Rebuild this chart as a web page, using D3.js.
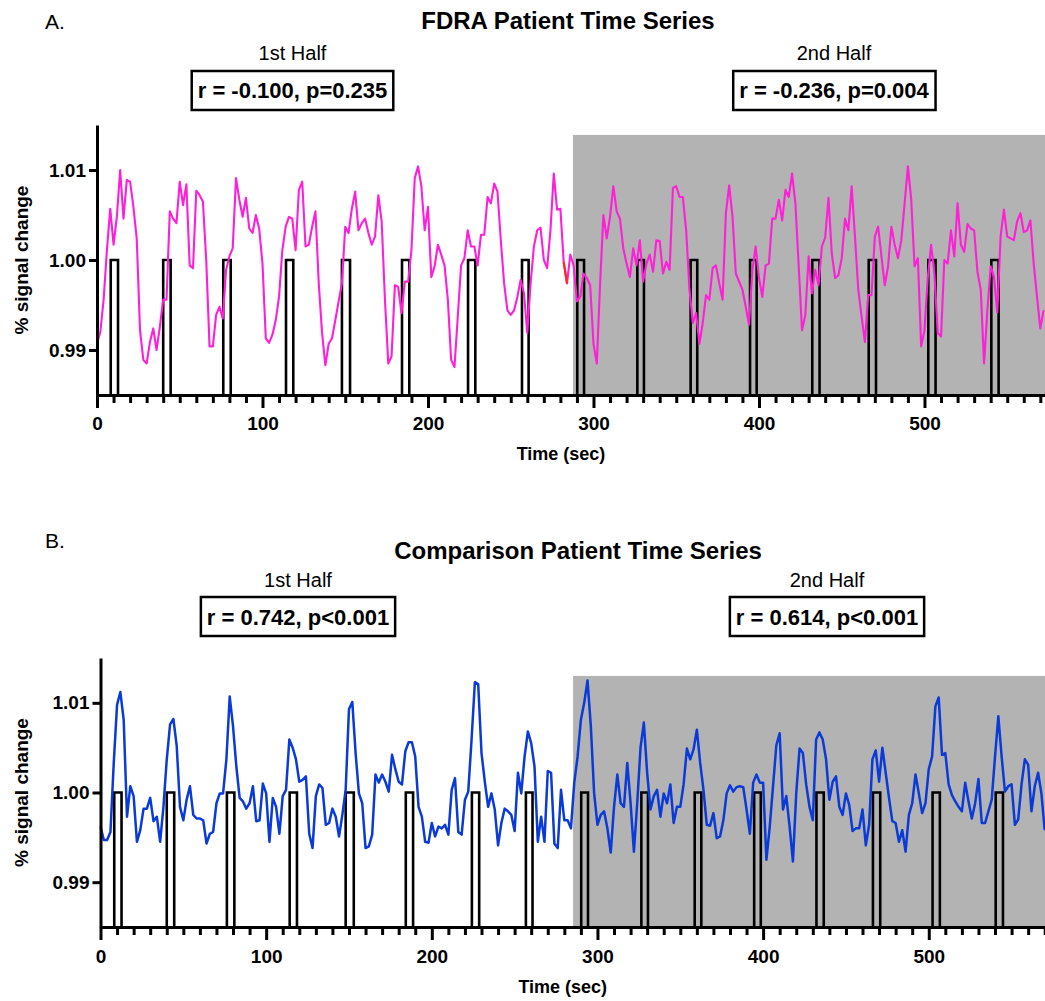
<!DOCTYPE html>
<html><head><meta charset="utf-8">
<script src="https://cdn.jsdelivr.net/npm/d3@7"></script>
<style>
body{margin:0;background:#fff}
text{font-family:"Liberation Sans",Arial,Helvetica,sans-serif;fill:#000}
</style>
</head><body><svg id="c" width="1045" height="1001"></svg>
<script>
// ---------- DATA ----------
const sampleStep = 2; // seconds between samples
const fdraSignal = [
 0.9907,0.9920,0.9956,1.0011,1.0057,1.0017,1.0048,1.0100,1.0046,1.0089,
 1.0087,1.0059,1.0024,0.9922,0.9889,0.9885,0.9909,0.9924,0.9900,0.9926,
 0.9956,0.9956,1.0054,1.0046,1.0041,1.0087,1.0061,1.0084,0.9994,0.9991,
 1.0077,1.0072,1.0065,1.0000,0.9904,0.9904,0.9939,0.9948,0.9935,0.9989,
 1.0004,1.0013,1.0091,1.0067,1.0048,1.0069,1.0035,1.0030,1.0050,1.0035,
 0.9996,0.9913,0.9908,0.9917,0.9933,0.9959,1.0011,1.0037,1.0048,1.0046,
 1.0011,1.0078,1.0087,1.0015,1.0017,1.0037,1.0054,0.9974,0.9919,0.9883,
 0.9907,0.9913,0.9933,0.9954,0.9974,1.0037,1.0030,1.0057,1.0076,1.0033,
 1.0041,1.0046,1.0030,1.0017,1.0026,1.0072,1.0043,0.9956,0.9885,0.9893,
 0.9972,0.9970,0.9941,0.9976,0.9976,1.0011,1.0091,1.0104,1.0082,1.0033,
 1.0059,0.9981,0.9993,1.0017,1.0006,0.9994,0.9956,0.9889,0.9881,0.9937,
 0.9994,1.0002,1.0033,1.0015,1.0015,0.9994,1.0028,1.0028,1.0070,1.0063,
 1.0085,1.0076,1.0022,0.9974,0.9944,0.9939,0.9944,0.9959,0.9978,0.9963,
 0.9919,0.9974,1.0015,1.0033,1.0036,1.0000,0.9991,1.0033,1.0096,1.0056,
 1.0057,0.9998,0.9974,1.0006,0.9994,0.9954,0.9959,0.9985,0.9980,0.9972,
 0.9907,0.9885,0.9974,1.0050,1.0024,1.0048,1.0082,1.0054,1.0046,1.0013,
 0.9996,0.9981,1.0013,0.9994,1.0022,0.9976,0.9996,1.0006,0.9987,1.0022,
 1.0021,0.9985,0.9998,0.9989,1.0080,1.0082,1.0070,1.0070,1.0033,0.9967,
 0.9930,0.9941,0.9907,0.9930,0.9961,0.9956,0.9991,0.9994,0.9974,0.9956,
 1.0052,1.0083,1.0048,0.9985,0.9976,0.9967,0.9948,0.9928,0.9989,1.0015,
 0.9980,0.9959,0.9994,0.9996,1.0046,1.0046,1.0067,1.0044,1.0078,1.0070,
 1.0096,1.0063,0.9993,0.9922,0.9939,1.0004,0.9963,0.9989,0.9972,1.0015,
 1.0025,1.0069,1.0007,0.9980,0.9983,1.0002,1.0046,1.0033,1.0082,1.0026,
 0.9967,0.9937,0.9909,0.9961,0.9961,1.0026,1.0037,1.0004,0.9972,0.9993,
 1.0037,1.0017,1.0002,1.0022,1.0063,1.0104,1.0067,0.9993,1.0002,0.9904,
 0.9922,0.9980,1.0017,0.9985,0.9919,0.9915,1.0000,0.9996,1.0033,1.0004,
 1.0063,1.0017,1.0009,1.0040,1.0035,1.0033,0.9987,0.9967,0.9885,0.9944,
 0.9993,0.9981,0.9942,1.0026,1.0056,1.0026,1.0024,1.0022,1.0043,1.0052,
 1.0031,1.0033,1.0044,0.9996,0.9959,0.9924,0.9944
];
const comparisonSignal = [
 0.9962,0.9947,0.9947,0.9956,1.0033,1.0098,1.0112,1.0081,0.9973,1.0007,
 0.9996,0.9945,0.9958,0.9982,0.9982,0.9994,0.9968,0.9973,0.9945,0.9984,
 1.0037,1.0076,1.0082,1.0052,0.9984,0.9969,0.9992,1.0007,0.9975,0.9971,
 0.9971,0.9969,0.9943,0.9954,0.9956,0.9988,0.9999,0.9999,1.0037,1.0107,
 1.0074,1.0029,0.9994,0.9990,0.9982,0.9988,1.0007,0.9968,0.9969,1.0010,
 0.9999,0.9945,0.9994,0.9984,0.9954,0.9996,1.0003,1.0059,1.0050,1.0037,
 1.0012,1.0014,1.0018,0.9954,0.9938,0.9996,1.0009,1.0005,0.9964,0.9966,
 0.9982,0.9973,0.9951,0.9975,1.0003,1.0093,1.0101,1.0044,0.9999,0.9988,
 0.9938,0.9940,0.9953,1.0020,1.0011,1.0020,1.0012,1.0001,1.0042,1.0026,
 1.0012,1.0009,1.0046,1.0056,1.0056,1.0040,0.9984,0.9973,0.9945,0.9944,
 0.9966,0.9951,0.9962,0.9960,0.9964,0.9953,1.0003,1.0016,0.9956,0.9953,
 0.9992,1.0001,1.0059,1.0123,1.0121,1.0044,1.0012,0.9984,0.9999,0.9981,
 0.9941,0.9966,0.9982,0.9979,0.9975,0.9957,1.0022,0.9999,1.0040,1.0068,
 1.0055,1.0029,0.9945,0.9973,0.9945,1.0024,1.0022,0.9943,0.9938,1.0003,
 0.9969,0.9969,0.9960,1.0011,1.0040,1.0081,1.0100,1.0125,1.0074,0.9999,
 0.9964,0.9975,0.9979,0.9960,0.9933,0.9984,1.0020,0.9988,0.9984,1.0033,
 0.9988,0.9934,0.9988,1.0050,1.0078,1.0022,0.9981,0.9996,1.0003,0.9973,
 0.9999,0.9988,1.0009,0.9966,0.9984,0.9984,1.0009,1.0049,1.0037,1.0048,
 1.0070,1.0033,1.0003,0.9964,0.9963,0.9977,0.9949,0.9951,0.9969,0.9999,
 1.0008,1.0001,1.0006,1.0007,1.0006,0.9981,0.9954,1.0011,1.0020,1.0011,
 1.0011,0.9925,0.9962,1.0007,1.0053,1.0066,0.9981,0.9996,0.9962,0.9923,
 0.9999,1.0049,1.0044,1.0009,0.9984,0.9969,1.0059,1.0067,1.0059,1.0037,
 0.9992,1.0012,1.0018,0.9984,0.9975,0.9999,0.9986,0.9957,0.9960,0.9960,
 0.9981,0.9941,0.9964,1.0037,1.0047,1.0012,1.0050,1.0022,0.9994,0.9968,
 0.9966,0.9945,0.9958,0.9934,0.9975,0.9988,1.0020,0.9999,0.9977,0.9988,
 1.0026,1.0040,1.0096,1.0106,1.0042,1.0044,1.0009,0.9997,0.9990,0.9984,
 0.9979,1.0011,0.9990,0.9971,0.9988,1.0015,0.9966,0.9966,0.9979,0.9992,
 1.0040,1.0085,1.0040,1.0001,1.0007,1.0009,0.9964,0.9970,1.0009,1.0037,
 1.0031,0.9979,1.0007,1.0022,0.9999,0.9958
];
const pulseOnsets  = [8.3, 40.0, 76.3, 114.2, 148.0, 184.3, 224.2, 256.8, 290.2, 326.5, 358.7, 394.6, 432.2, 466.3, 502.3, 540.4];
const pulseOffsets = [12.7, 44.5, 80.8, 118.6, 152.9, 188.7, 228.6, 260.8, 294.3, 330.5, 362.7, 398.6, 436.6, 470.7, 506.7, 544.8];
const pulseLevel = 1.00;
const timeDomain = [0, 575];
const signalDomain = [0.985, 1.015];
const yTickValues = [0.99, 1.00, 1.01];
const yTickLabels = ["0.99", "1.00", "1.01"];
const xMajorTicks = [0, 100, 200, 300, 400, 500];
const xTickLabels = ["0", "100", "200", "300", "400", "500"];
const xMinorStep = 10;
const panelLetters = ["A.", "B."];
const panelTitles = ["FDRA Patient Time Series", "Comparison Patient Time Series"];
const halfLabels = ["1st Half", "2nd Half"];
const fdraStats = ["r = -0.100, p=0.235", "r = -0.236, p=0.004"];
const comparisonStats = ["r = 0.742, p<0.001", "r = 0.614, p<0.001"];
const secondHalfStart = [287.6, 285.3];
const shadeTopValue = [1.0139, 1.0130];
const redSegmentIndex = [141, 142];
const yAxisLabel = "% signal change";
const xAxisLabel = "Time (sec)";

// ---------- LAYOUT ----------
const svg = d3.select("#c");
svg.append("rect").attr("width",1045).attr("height",1001).attr("fill","#fff");

const layouts = [
 {x0:97, x1:1048.6, yTop:125, yBot:395, letterY:29, titleY:29, titleX:568, halfY:60, halfX:[292.5,834], boxTop:71, boxH:39, textY:98, tickY:430, xlabY:460, color:"#ff1fd8"},
 {x0:100.5, x1:1053, yTop:658, yBot:927, letterY:548, titleY:559, titleX:578, halfY:587, halfX:[298,827], boxTop:597, boxH:39, textY:625, tickY:963, xlabY:993, color:"#0a3ad8"}
];
const signals = [fdraSignal, comparisonSignal];
const stats = [fdraStats, comparisonStats];

layouts.forEach((L, p) => {
  const g = svg.append("g");
  const x = d3.scaleLinear().domain(timeDomain).range([L.x0, L.x1]);
  const y = d3.scaleLinear().domain(signalDomain).range([L.yBot, L.yTop]);

  // shaded second half
  g.append("rect")
    .attr("x", x(secondHalfStart[p])).attr("y", y(shadeTopValue[p]))
    .attr("width", x(timeDomain[1]) - x(secondHalfStart[p]) + 10)
    .attr("height", y(signalDomain[0]) - y(shadeTopValue[p]))
    .attr("fill", "#b3b3b3");

  // stimulus pulses
  const pulsePts = [];
  pulseOnsets.forEach((on, k) => {
    const off = pulseOffsets[k];
    pulsePts.push([on, signalDomain[0]], [on, pulseLevel], [off, pulseLevel], [off, signalDomain[0]]);
  });
  const pl = d3.line().x(d => x(d[0])).y(d => y(d[1]));
  pulseOnsets.forEach((on, k) => {
    g.append("path").attr("d", pl(pulsePts.slice(k*4, k*4+4)))
      .attr("fill","none").attr("stroke","#000").attr("stroke-width",2.6);
  });

  // signal
  const data = signals[p].map((v, i) => ({t: i*sampleStep, v}));
  const line = d3.line().x(d => x(d.t)).y(d => y(d.v));
  g.append("path").attr("d", line(data)).attr("fill","none")
    .attr("stroke", L.color).attr("stroke-width", p === 0 ? 2.1 : 2.5)
    .attr("stroke-linejoin","round");
  if (p === 0) {
    g.append("path").attr("d", line(redSegmentIndex.map(i => data[i])))
      .attr("fill","none").attr("stroke","#ff2a10").attr("stroke-width",2.1);
  }

  // x axis minor ticks
  const minor = d3.range(timeDomain[0], timeDomain[1], xMinorStep).filter(t => !xMajorTicks.includes(t));
  const gxMinor = g.append("g").attr("transform", `translate(0,${L.yBot})`)
    .call(d3.axisBottom(x).tickValues(minor).tickSize(8).tickSizeOuter(0).tickFormat(""));
  gxMinor.select(".domain").remove();
  gxMinor.selectAll(".tick line").attr("stroke","#000").attr("stroke-width",3);

  const gx = g.append("g").attr("transform", `translate(0,${L.yBot})`)
    .call(d3.axisBottom(x).tickValues(xMajorTicks).tickSize(13).tickSizeOuter(0)
      .tickFormat((d,i) => xTickLabels[i]));
  gx.select(".domain").attr("stroke","#000").attr("stroke-width",3);
  gx.selectAll(".tick line").attr("stroke","#000").attr("stroke-width",3);
  gx.selectAll(".tick text").attr("y", null).attr("dy", null)
    .attr("transform", `translate(0,${L.tickY - L.yBot})`)
    .style("font-size","19px").style("font-weight","bold")
    .style("font-family",'"Liberation Sans",Arial,sans-serif');

  // y axis
  const gy = g.append("g").attr("transform", `translate(${L.x0},0)`)
    .call(d3.axisLeft(y).tickValues(yTickValues).tickSize(8).tickSizeOuter(0)
      .tickFormat((d,i) => yTickLabels[i]));
  gy.select(".domain").attr("stroke","#000").attr("stroke-width",3);
  gy.selectAll(".tick line").attr("stroke","#000").attr("stroke-width",3);
  gy.selectAll(".tick text").attr("x", -11)
    .style("font-size","19px").style("font-weight","bold")
    .style("font-family",'"Liberation Sans",Arial,sans-serif');

  // axis labels
  g.append("text").attr("x", (L.x0 + 1025)/2 + 0).attr("y", L.xlabY)
    .attr("text-anchor","middle").style("font-size","18px").style("font-weight","bold")
    .text(xAxisLabel);
  g.append("text").attr("transform", `translate(28,${y(1.0)}) rotate(-90)`)
    .attr("text-anchor","middle").style("font-size","19px").style("font-weight","bold")
    .text(yAxisLabel);

  // titles
  g.append("text").attr("x", 45).attr("y", L.letterY).style("font-size","21px").text(panelLetters[p]);
  g.append("text").attr("x", L.titleX).attr("y", L.titleY).attr("text-anchor","middle")
    .style("font-size","24px").style("font-weight","bold").text(panelTitles[p]);

  halfLabels.forEach((lab, h) => {
    g.append("text").attr("x", L.halfX[h]).attr("y", L.halfY).attr("text-anchor","middle")
      .style("font-size","20px").text(lab);
    const t = g.append("text").attr("x", L.halfX[h]).attr("y", L.textY).attr("text-anchor","middle")
      .style("font-size","22px").style("font-weight","bold").text(stats[p][h]);
    const bb = t.node().getBBox();
    g.insert("rect", () => t.node())
      .attr("x", bb.x - 6).attr("y", L.boxTop).attr("width", bb.width + 12).attr("height", L.boxH)
      .attr("fill","#fff").attr("stroke","#000").attr("stroke-width",2.5);
  });
});
</script></body></html>
